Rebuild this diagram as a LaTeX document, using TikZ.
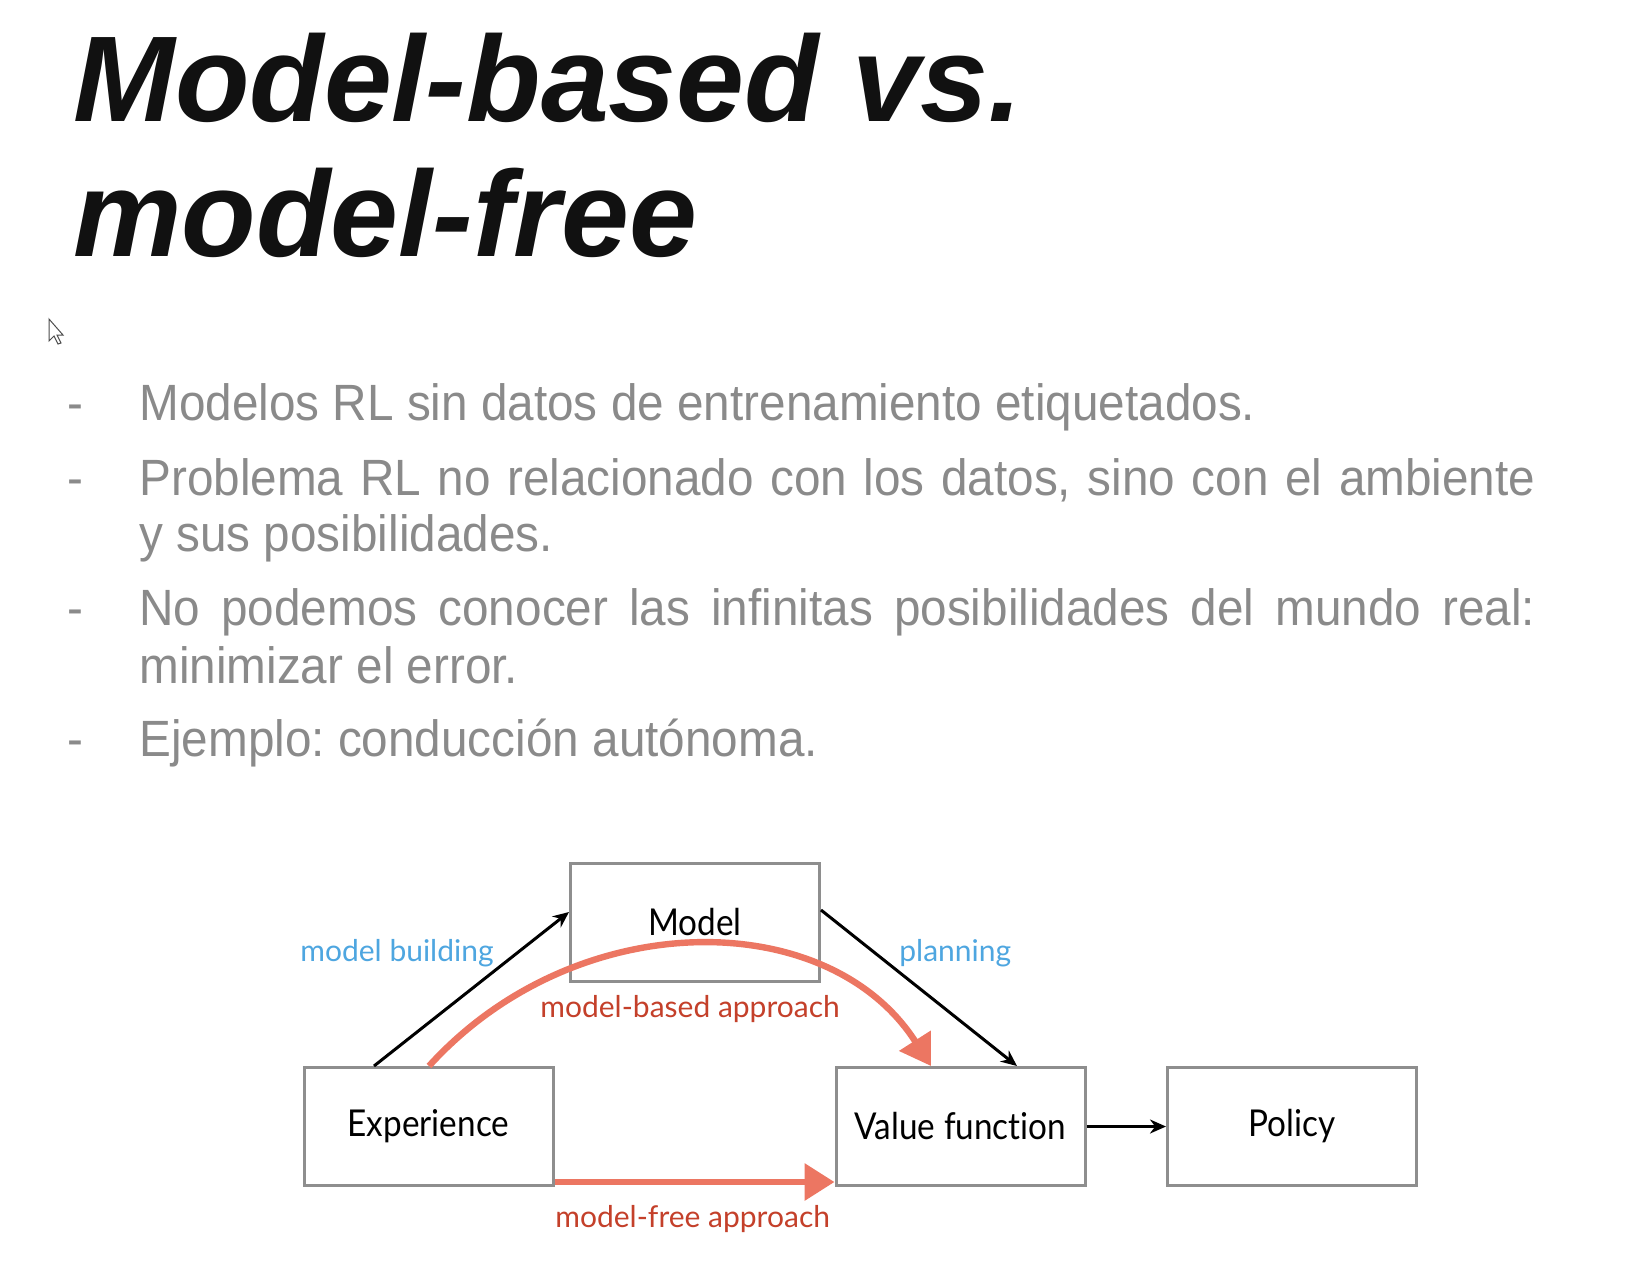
\documentclass[tikz,border=0pt]{standalone}
\usepackage{fontspec}
\setmainfont{Liberation Sans}
\newfontfamily\bodyfont[FakeStretch=0.935]{Liberation Sans}
\newfontfamily\diagfont[FakeStretch=0.9,Ligatures=NoCommon]{Lato}
\newfontfamily\labelfont[Ligatures=NoCommon]{Lato}
\usetikzlibrary{arrows.meta}
\definecolor{titleink}{HTML}{111111}
\definecolor{bodygray}{HTML}{8A8A8A}
\definecolor{boxgray}{HTML}{8E8E8E}
\definecolor{labelblue}{HTML}{4EA6E0}
\definecolor{approachred}{HTML}{C4402A}
\definecolor{curvesalmon}{HTML}{EC7662}
\tikzset{
  titletext/.style={anchor=base west, inner sep=0pt, text=titleink,
    font=\fontsize{61pt}{61pt}\selectfont\bfseries\itshape},
  bullettext/.style={anchor=base west, inner sep=0pt, text=bodygray,
    font=\bodyfont\fontsize{25.5pt}{28pt}\selectfont\frenchspacing},
  stagebox/.style={draw=boxgray, line width=1.5pt, minimum width=124.5pt,
    minimum height=59pt, inner sep=0pt, font=\diagfont\fontsize{18.5pt}{18.5pt}\selectfont},
  bluelabel/.style={anchor=base west, inner sep=0pt, text=labelblue,
    font=\labelfont\fontsize{15pt}{15pt}\selectfont},
  redlabel/.style={anchor=base west, inner sep=0pt, text=approachred,
    font=\labelfont\fontsize{15pt}{15pt}\selectfont},
  flow/.style={line width=1.5pt, -{Stealth[length=8pt,width=7pt]}},
  approach/.style={draw=curvesalmon, line width=3.2pt,
    -{Triangle[length=15pt,width=18pt]}},
}
\begin{document}
\begin{tikzpicture}[x=0.5pt,y=-0.5pt]
\useasboundingbox[fill=white] (0,0) rectangle (1640,1260);

% title
\node[titletext] (t1) at (73,121) {Model-based vs.};
\node[titletext] (t2) at (73,256) {model-free};

% mouse pointer
\draw[black!70, line width=0.5pt, fill=white]
  (49,319) -- (49,341) -- (54,336) -- (58,344) -- (61,343) -- (57,335) -- (63,335) -- cycle;

% bullet list
\foreach \y/\n in {420/d1,495/d2,625/d3,756/d4}
  \node[bullettext] (\n) at (67,\y) {-};
\node[bullettext] (b1) at (139,420) {Modelos RL sin datos de entrenamiento etiquetados.};
\node[bullettext] (b2) at (139,495) {\makebox[698pt][s]{Problema RL no relacionado con los datos, sino con el ambiente}};
\node[bullettext] (b2b) at (139,551) {y sus posibilidades.};
\node[bullettext] (b3) at (139,625) {\makebox[698pt][s]{No podemos conocer las infinitas posibilidades del mundo real:}};
\node[bullettext] (b3b) at (139,683) {minimizar el error.};
\node[bullettext] (b4) at (139,756) {Ejemplo: conducción autónoma.};

% diagram boxes
\node[stagebox] (model) at (695,922) {Model};
\node[stagebox] (exp) at (428.5,1126.5) {Experience};
\node[stagebox] (vf) at (960.5,1126.5) {Value function};
\node[stagebox] (pol) at (1292,1126.5) {Policy};

% model-based approach (drawn over the model box)
\coordinate (mbs) at (exp.north -| 429,0);
\coordinate (mbe) at (vf.north -| 931,0);
\draw[approach] (mbs) .. controls (575,905) and (828,905) .. (mbe);

% model-free approach
\coordinate (mfs) at (exp.south east);
\coordinate (mfe) at (vf.south west);
\draw[approach] ([yshift=2.5pt]mfs) -- ([yshift=2.5pt]mfe);

% black connectors
\coordinate (mbA) at (exp.north -| 374,0);
\coordinate (mbB) at (model.west |- 0,912);
\draw[flow] (mbA) -- (mbB);
\coordinate (plA) at (model.east |- 0,910);
\coordinate (plB) at (vf.north -| 1017,0);
\draw[flow] (plA) -- (plB);
\draw[flow] (vf.east) -- (pol.west);

% labels
\node[bluelabel] (lmb) at (300,961) {model building};
\node[bluelabel] (lpl) at (899,961) {planning};
\node[redlabel] (lmba) at (540,1017) {model-based approach};
\node[redlabel] (lmfa) at (555,1227) {model-free approach};
\end{tikzpicture}
\end{document}
